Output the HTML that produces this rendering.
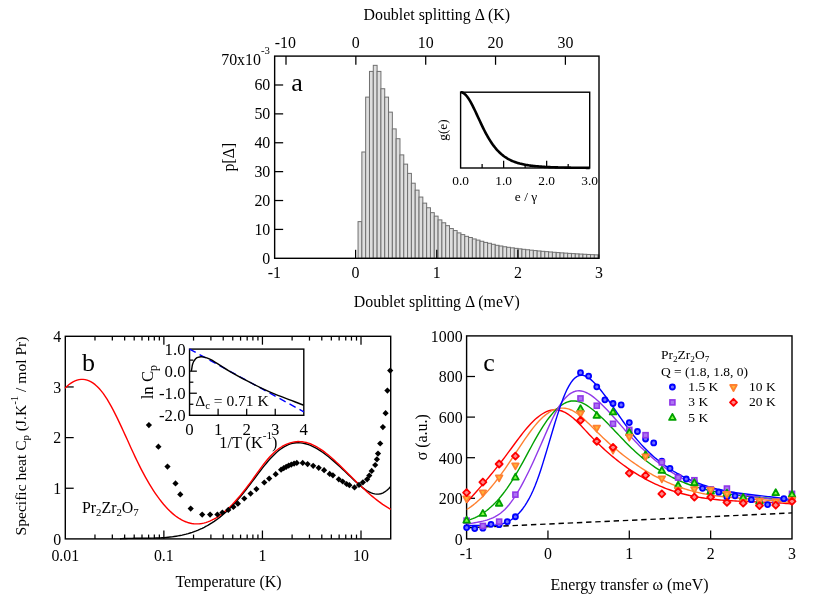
<!DOCTYPE html>
<html><head><meta charset="utf-8"><title>Figure</title>
<style>
html,body{margin:0;padding:0;background:#fff;}
body{width:830px;height:598px;overflow:hidden;font-family:"Liberation Serif",serif;}
svg{display:block;will-change:transform;}
svg text{font-family:'Liberation Serif',serif;fill:#000;}
</style></head><body>
<svg width="830" height="598" viewBox="0 0 830 598">
<rect width="830" height="598" fill="#fff"/>
<g stroke="#707070" stroke-width="1" fill="#dedede">
<rect x="358.05" y="221.62" width="3.81" height="36.68"/>
<rect x="361.86" y="152" width="3.81" height="106.3"/>
<rect x="365.67" y="97.12" width="3.81" height="161.18"/>
<rect x="369.48" y="71.41" width="3.81" height="186.89"/>
<rect x="373.29" y="65.34" width="3.81" height="192.96"/>
<rect x="377.11" y="71.41" width="3.81" height="186.89"/>
<rect x="380.92" y="88.74" width="3.81" height="169.56"/>
<rect x="384.73" y="97.12" width="3.81" height="161.18"/>
<rect x="388.54" y="112.14" width="3.81" height="146.16"/>
<rect x="392.35" y="128.89" width="3.81" height="129.41"/>
<rect x="396.16" y="138.71" width="3.81" height="119.59"/>
<rect x="399.97" y="154.89" width="3.81" height="103.41"/>
<rect x="403.78" y="164.13" width="3.81" height="94.17"/>
<rect x="407.59" y="173.38" width="3.81" height="84.92"/>
<rect x="411.4" y="183.2" width="3.81" height="75.1"/>
<rect x="415.22" y="190.13" width="3.81" height="68.17"/>
<rect x="419.03" y="197.06" width="3.81" height="61.24"/>
<rect x="422.84" y="203.13" width="3.81" height="55.17"/>
<rect x="426.65" y="207.75" width="3.81" height="50.55"/>
<rect x="430.46" y="212.66" width="3.81" height="45.64"/>
<rect x="434.27" y="216.13" width="3.81" height="42.17"/>
<rect x="438.08" y="219.88" width="3.81" height="38.42"/>
<rect x="441.89" y="222.77" width="3.81" height="35.53"/>
<rect x="445.7" y="225.66" width="3.81" height="32.64"/>
<rect x="449.51" y="228.55" width="3.81" height="29.75"/>
<rect x="453.33" y="230.57" width="3.81" height="27.73"/>
<rect x="457.14" y="232.88" width="3.81" height="25.42"/>
<rect x="460.95" y="234.61" width="3.81" height="23.69"/>
<rect x="464.76" y="236.35" width="3.81" height="21.95"/>
<rect x="468.57" y="237.5" width="3.81" height="20.8"/>
<rect x="472.38" y="238.95" width="3.81" height="19.35"/>
<rect x="476.19" y="240.1" width="3.81" height="18.2"/>
<rect x="480" y="241.26" width="3.81" height="17.04"/>
<rect x="483.81" y="242.41" width="3.81" height="15.89"/>
<rect x="487.62" y="243.28" width="3.81" height="15.02"/>
<rect x="491.44" y="244.29" width="3.81" height="14.01"/>
<rect x="495.25" y="245.3" width="3.81" height="13"/>
<rect x="499.06" y="245.99" width="3.81" height="12.31"/>
<rect x="502.87" y="246.75" width="3.81" height="11.55"/>
<rect x="506.68" y="247.31" width="3.81" height="10.99"/>
<rect x="510.49" y="247.85" width="3.81" height="10.45"/>
<rect x="514.3" y="248.36" width="3.81" height="9.94"/>
<rect x="518.11" y="248.85" width="3.81" height="9.45"/>
<rect x="521.92" y="249.31" width="3.81" height="8.99"/>
<rect x="525.73" y="249.75" width="3.81" height="8.55"/>
<rect x="529.55" y="250.17" width="3.81" height="8.13"/>
<rect x="533.36" y="250.57" width="3.81" height="7.73"/>
<rect x="537.17" y="250.95" width="3.81" height="7.35"/>
<rect x="540.98" y="251.31" width="3.81" height="6.99"/>
<rect x="544.79" y="251.65" width="3.81" height="6.65"/>
<rect x="548.6" y="251.97" width="3.81" height="6.33"/>
<rect x="552.41" y="252.28" width="3.81" height="6.02"/>
<rect x="556.22" y="252.58" width="3.81" height="5.72"/>
<rect x="560.03" y="252.86" width="3.81" height="5.44"/>
<rect x="563.84" y="253.12" width="3.81" height="5.18"/>
<rect x="567.65" y="253.38" width="3.81" height="4.92"/>
<rect x="571.47" y="253.62" width="3.81" height="4.68"/>
<rect x="575.28" y="253.85" width="3.81" height="4.45"/>
<rect x="579.09" y="254.07" width="3.81" height="4.23"/>
<rect x="582.9" y="254.27" width="3.81" height="4.03"/>
<rect x="586.71" y="254.47" width="3.81" height="3.83"/>
<rect x="590.52" y="254.66" width="3.81" height="3.64"/>
<rect x="594.33" y="254.84" width="3.81" height="3.46"/>
<rect x="598.14" y="255.01" width="0.86" height="3.29"/>
</g>
<rect x="274.65" y="56.1" width="324.35" height="202.2" fill="none" stroke="#000" stroke-width="1.4"/>
<line x1="355.6" y1="258.3" x2="355.6" y2="249.8" stroke="#000" stroke-width="1.25" />
<line x1="436.75" y1="258.3" x2="436.75" y2="249.8" stroke="#000" stroke-width="1.25" />
<line x1="517.9" y1="258.3" x2="517.9" y2="249.8" stroke="#000" stroke-width="1.25" />
<text x="274.35" y="278.1" font-size="15.9" text-anchor="middle" >-1</text>
<text x="355.6" y="278.1" font-size="15.9" text-anchor="middle" >0</text>
<text x="436.75" y="278.1" font-size="15.9" text-anchor="middle" >1</text>
<text x="517.9" y="278.1" font-size="15.9" text-anchor="middle" >2</text>
<text x="599.05" y="278.1" font-size="15.9" text-anchor="middle" >3</text>
<line x1="286" y1="56.1" x2="286" y2="64.8" stroke="#000" stroke-width="1.25" />
<text x="285.4" y="47.9" font-size="15.9" text-anchor="middle" >-10</text>
<line x1="355.85" y1="56.1" x2="355.85" y2="64.8" stroke="#000" stroke-width="1.25" />
<text x="355.85" y="47.9" font-size="15.9" text-anchor="middle" >0</text>
<line x1="425.7" y1="56.1" x2="425.7" y2="64.8" stroke="#000" stroke-width="1.25" />
<text x="425.7" y="47.9" font-size="15.9" text-anchor="middle" >10</text>
<line x1="495.55" y1="56.1" x2="495.55" y2="64.8" stroke="#000" stroke-width="1.25" />
<text x="495.55" y="47.9" font-size="15.9" text-anchor="middle" >20</text>
<line x1="565.4" y1="56.1" x2="565.4" y2="64.8" stroke="#000" stroke-width="1.25" />
<text x="565.4" y="47.9" font-size="15.9" text-anchor="middle" >30</text>
<line x1="274.65" y1="229.41" x2="283.15" y2="229.41" stroke="#000" stroke-width="1.25" />
<line x1="274.65" y1="200.53" x2="283.15" y2="200.53" stroke="#000" stroke-width="1.25" />
<line x1="274.65" y1="171.64" x2="283.15" y2="171.64" stroke="#000" stroke-width="1.25" />
<line x1="274.65" y1="142.76" x2="283.15" y2="142.76" stroke="#000" stroke-width="1.25" />
<line x1="274.65" y1="113.87" x2="283.15" y2="113.87" stroke="#000" stroke-width="1.25" />
<line x1="274.65" y1="84.99" x2="283.15" y2="84.99" stroke="#000" stroke-width="1.25" />
<text x="270.3" y="263.8" font-size="15.9" text-anchor="end" >0</text>
<text x="270.3" y="234.91" font-size="15.9" text-anchor="end" >10</text>
<text x="270.3" y="206.03" font-size="15.9" text-anchor="end" >20</text>
<text x="270.3" y="177.14" font-size="15.9" text-anchor="end" >30</text>
<text x="270.3" y="148.26" font-size="15.9" text-anchor="end" >40</text>
<text x="270.3" y="119.37" font-size="15.9" text-anchor="end" >50</text>
<text x="270.3" y="90.49" font-size="15.9" text-anchor="end" >60</text>
<text x="221.2" y="64.6" font-size="15.9" text-anchor="start" >70x10<tspan font-size="10.81" dy="-10.8">-3</tspan><tspan dy="10.8"></tspan></text>
<text x="436.8" y="20.3" font-size="15.9" text-anchor="middle" >Doublet splitting Δ (K)</text>
<text x="436.8" y="307.2" font-size="15.9" text-anchor="middle" >Doublet splitting Δ (meV)</text>
<text transform="translate(234.1 157.2) rotate(-90)" font-size="15.9" text-anchor="middle">p[Δ]</text>
<text x="291.2" y="90.7" font-size="26" text-anchor="start" >a</text>
<rect x="460.6" y="92.2" width="129.1" height="75.8" fill="#fff" stroke="#000" stroke-width="1.4"/>
<line x1="482.12" y1="168" x2="482.12" y2="164" stroke="#000" stroke-width="1.25" />
<line x1="525.14" y1="168" x2="525.14" y2="164" stroke="#000" stroke-width="1.25" />
<line x1="568.18" y1="168" x2="568.18" y2="164" stroke="#000" stroke-width="1.25" />
<line x1="503.63" y1="168" x2="503.63" y2="160.8" stroke="#000" stroke-width="1.25" />
<line x1="546.66" y1="168" x2="546.66" y2="160.8" stroke="#000" stroke-width="1.25" />
<text x="460.6" y="185" font-size="13.4" text-anchor="middle" >0.0</text>
<text x="503.63" y="185" font-size="13.4" text-anchor="middle" >1.0</text>
<text x="546.66" y="185" font-size="13.4" text-anchor="middle" >2.0</text>
<text x="589.69" y="185" font-size="13.4" text-anchor="middle" >3.0</text>
<text x="526" y="201.4" font-size="13.4" text-anchor="middle" >e / γ</text>
<text transform="translate(447 130) rotate(-90)" font-size="13.4" text-anchor="middle">g(e)</text>
<path d="M460.6 92.2L461.68 92.32L462.75 92.69L463.83 93.31L464.9 94.15L465.98 95.22L467.05 96.49L468.13 97.96L469.21 99.61L470.28 101.41L471.36 103.34L472.43 105.4L473.51 107.54L474.58 109.76L475.66 112.04L476.74 114.35L477.81 116.68L478.89 119.01L479.96 121.33L481.04 123.62L482.12 125.87L483.19 128.07L484.27 130.22L485.34 132.29L486.42 134.3L487.49 136.24L488.57 138.09L489.65 139.87L490.72 141.56L491.8 143.17L492.87 144.7L493.95 146.15L495.02 147.52L496.1 148.82L497.18 150.04L498.25 151.19L499.33 152.27L500.4 153.28L501.48 154.23L502.55 155.13L503.63 155.96L504.71 156.74L505.78 157.47L506.86 158.15L507.93 158.79L509.01 159.39L510.08 159.94L511.16 160.46L512.24 160.95L513.31 161.4L514.39 161.82L515.46 162.21L516.54 162.58L517.61 162.92L518.69 163.24L519.77 163.54L520.84 163.81L521.92 164.07L522.99 164.31L524.07 164.54L525.14 164.75L526.22 164.95L527.3 165.13L528.37 165.3L529.45 165.46L530.52 165.61L531.6 165.75L532.68 165.88L533.75 166L534.83 166.12L535.9 166.23L536.98 166.33L538.05 166.42L539.13 166.51L540.21 166.59L541.28 166.67L542.36 166.74L543.43 166.81L544.51 166.87L545.58 166.93L546.66 166.99L547.74 167.04L548.81 167.09L549.89 167.14L550.96 167.19L552.04 167.23L553.11 167.27L554.19 167.3L555.27 167.34L556.34 167.37L557.42 167.4L558.49 167.43L559.57 167.46L560.64 167.49L561.72 167.51L562.8 167.53L563.87 167.56L564.95 167.58L566.02 167.6L567.1 167.62L568.18 167.63L569.25 167.65L570.33 167.67L571.4 167.68L572.48 167.7L573.55 167.71L574.63 167.72L575.71 167.73L576.78 167.75L577.86 167.76L578.93 167.77L580.01 167.78L581.08 167.79L582.16 167.8L583.24 167.8L584.31 167.81L585.39 167.82L586.46 167.83L587.54 167.83L588.61 167.84L589.69 167.85" fill="none" stroke="#000" stroke-width="2.6" stroke-linejoin="round" />
<rect x="65.3" y="336.3" width="325.4" height="202.6" fill="none" stroke="#000" stroke-width="1.4"/>
<line x1="94.97" y1="538.9" x2="94.97" y2="534.6" stroke="#000" stroke-width="1.25" />
<line x1="94.97" y1="336.3" x2="94.97" y2="340.6" stroke="#000" stroke-width="1.25" />
<line x1="112.33" y1="538.9" x2="112.33" y2="534.6" stroke="#000" stroke-width="1.25" />
<line x1="112.33" y1="336.3" x2="112.33" y2="340.6" stroke="#000" stroke-width="1.25" />
<line x1="124.65" y1="538.9" x2="124.65" y2="534.6" stroke="#000" stroke-width="1.25" />
<line x1="124.65" y1="336.3" x2="124.65" y2="340.6" stroke="#000" stroke-width="1.25" />
<line x1="134.2" y1="538.9" x2="134.2" y2="534.6" stroke="#000" stroke-width="1.25" />
<line x1="134.2" y1="336.3" x2="134.2" y2="340.6" stroke="#000" stroke-width="1.25" />
<line x1="142" y1="538.9" x2="142" y2="534.6" stroke="#000" stroke-width="1.25" />
<line x1="142" y1="336.3" x2="142" y2="340.6" stroke="#000" stroke-width="1.25" />
<line x1="148.6" y1="538.9" x2="148.6" y2="534.6" stroke="#000" stroke-width="1.25" />
<line x1="148.6" y1="336.3" x2="148.6" y2="340.6" stroke="#000" stroke-width="1.25" />
<line x1="154.32" y1="538.9" x2="154.32" y2="534.6" stroke="#000" stroke-width="1.25" />
<line x1="154.32" y1="336.3" x2="154.32" y2="340.6" stroke="#000" stroke-width="1.25" />
<line x1="159.36" y1="538.9" x2="159.36" y2="534.6" stroke="#000" stroke-width="1.25" />
<line x1="159.36" y1="336.3" x2="159.36" y2="340.6" stroke="#000" stroke-width="1.25" />
<line x1="163.87" y1="538.9" x2="163.87" y2="530.5" stroke="#000" stroke-width="1.25" />
<line x1="163.87" y1="336.3" x2="163.87" y2="344.7" stroke="#000" stroke-width="1.25" />
<line x1="193.54" y1="538.9" x2="193.54" y2="534.6" stroke="#000" stroke-width="1.25" />
<line x1="193.54" y1="336.3" x2="193.54" y2="340.6" stroke="#000" stroke-width="1.25" />
<line x1="210.9" y1="538.9" x2="210.9" y2="534.6" stroke="#000" stroke-width="1.25" />
<line x1="210.9" y1="336.3" x2="210.9" y2="340.6" stroke="#000" stroke-width="1.25" />
<line x1="223.22" y1="538.9" x2="223.22" y2="534.6" stroke="#000" stroke-width="1.25" />
<line x1="223.22" y1="336.3" x2="223.22" y2="340.6" stroke="#000" stroke-width="1.25" />
<line x1="232.77" y1="538.9" x2="232.77" y2="534.6" stroke="#000" stroke-width="1.25" />
<line x1="232.77" y1="336.3" x2="232.77" y2="340.6" stroke="#000" stroke-width="1.25" />
<line x1="240.57" y1="538.9" x2="240.57" y2="534.6" stroke="#000" stroke-width="1.25" />
<line x1="240.57" y1="336.3" x2="240.57" y2="340.6" stroke="#000" stroke-width="1.25" />
<line x1="247.17" y1="538.9" x2="247.17" y2="534.6" stroke="#000" stroke-width="1.25" />
<line x1="247.17" y1="336.3" x2="247.17" y2="340.6" stroke="#000" stroke-width="1.25" />
<line x1="252.89" y1="538.9" x2="252.89" y2="534.6" stroke="#000" stroke-width="1.25" />
<line x1="252.89" y1="336.3" x2="252.89" y2="340.6" stroke="#000" stroke-width="1.25" />
<line x1="257.93" y1="538.9" x2="257.93" y2="534.6" stroke="#000" stroke-width="1.25" />
<line x1="257.93" y1="336.3" x2="257.93" y2="340.6" stroke="#000" stroke-width="1.25" />
<line x1="262.44" y1="538.9" x2="262.44" y2="530.5" stroke="#000" stroke-width="1.25" />
<line x1="262.44" y1="336.3" x2="262.44" y2="344.7" stroke="#000" stroke-width="1.25" />
<line x1="292.11" y1="538.9" x2="292.11" y2="534.6" stroke="#000" stroke-width="1.25" />
<line x1="292.11" y1="336.3" x2="292.11" y2="340.6" stroke="#000" stroke-width="1.25" />
<line x1="309.47" y1="538.9" x2="309.47" y2="534.6" stroke="#000" stroke-width="1.25" />
<line x1="309.47" y1="336.3" x2="309.47" y2="340.6" stroke="#000" stroke-width="1.25" />
<line x1="321.79" y1="538.9" x2="321.79" y2="534.6" stroke="#000" stroke-width="1.25" />
<line x1="321.79" y1="336.3" x2="321.79" y2="340.6" stroke="#000" stroke-width="1.25" />
<line x1="331.34" y1="538.9" x2="331.34" y2="534.6" stroke="#000" stroke-width="1.25" />
<line x1="331.34" y1="336.3" x2="331.34" y2="340.6" stroke="#000" stroke-width="1.25" />
<line x1="339.14" y1="538.9" x2="339.14" y2="534.6" stroke="#000" stroke-width="1.25" />
<line x1="339.14" y1="336.3" x2="339.14" y2="340.6" stroke="#000" stroke-width="1.25" />
<line x1="345.74" y1="538.9" x2="345.74" y2="534.6" stroke="#000" stroke-width="1.25" />
<line x1="345.74" y1="336.3" x2="345.74" y2="340.6" stroke="#000" stroke-width="1.25" />
<line x1="351.46" y1="538.9" x2="351.46" y2="534.6" stroke="#000" stroke-width="1.25" />
<line x1="351.46" y1="336.3" x2="351.46" y2="340.6" stroke="#000" stroke-width="1.25" />
<line x1="356.5" y1="538.9" x2="356.5" y2="534.6" stroke="#000" stroke-width="1.25" />
<line x1="356.5" y1="336.3" x2="356.5" y2="340.6" stroke="#000" stroke-width="1.25" />
<line x1="361.01" y1="538.9" x2="361.01" y2="530.5" stroke="#000" stroke-width="1.25" />
<line x1="361.01" y1="336.3" x2="361.01" y2="344.7" stroke="#000" stroke-width="1.25" />
<line x1="65.3" y1="488.25" x2="73.7" y2="488.25" stroke="#000" stroke-width="1.25" />
<line x1="65.3" y1="437.6" x2="73.7" y2="437.6" stroke="#000" stroke-width="1.25" />
<line x1="65.3" y1="386.95" x2="73.7" y2="386.95" stroke="#000" stroke-width="1.25" />
<g>
<path d="M120 538.72L122.01 538.61L124.01 538.53L126.02 538.46L128.02 538.4L130.03 538.36L132.03 538.33L134.04 538.3L136.04 538.29L138.05 538.28L140.05 538.27L142.06 538.26L144.06 538.25L146.07 538.23L148.07 538.21L150.08 538.19L152.08 538.15L154.09 538.1L156.09 538.04L158.1 537.97L160.1 537.87L162.11 537.76L164.11 537.62L166.12 537.47L168.12 537.28L170.13 537.07L172.13 536.83L174.14 536.55L176.15 536.25L178.15 535.91L180.16 535.53L182.16 535.11L184.17 534.64L186.17 534.14L188.18 533.59L190.18 532.99L192.19 532.34L194.19 531.64L196.2 530.89L198.2 530.08L200.21 529.21L202.21 528.28L204.22 527.29L206.22 526.24L208.23 525.12L210.23 523.93L212.24 522.68L214.24 521.35L216.25 519.94L218.25 518.46L220.26 516.91L222.26 515.27L224.27 513.55L226.27 511.75L228.28 509.86L230.29 507.88L232.29 505.82L234.3 503.66L236.3 501.43L238.31 499.12L240.31 496.74L242.32 494.3L244.32 491.8L246.33 489.26L248.33 486.67L250.34 484.05L252.34 481.4L254.35 478.73L256.35 476.05L258.36 473.39L260.36 470.76L262.37 468.17L264.37 465.64L266.38 463.19L268.38 460.82L270.39 458.56L272.39 456.41L274.4 454.39L276.4 452.52L278.41 450.8L280.41 449.24L282.42 447.84L284.43 446.6L286.43 445.53L288.44 444.64L290.44 443.93L292.45 443.39L294.45 443.03L296.46 442.82L298.46 442.77L300.47 442.88L302.47 443.12L304.48 443.51L306.48 444.03L308.49 444.67L310.49 445.44L312.5 446.32L314.5 447.31L316.51 448.4L318.51 449.59L320.52 450.87L322.52 452.24L324.53 453.68L326.53 455.19L328.54 456.78L330.54 458.42L332.55 460.12L334.55 461.86L336.56 463.65L338.57 465.47L340.57 467.33L342.58 469.2L344.58 471.1L346.59 473.01L348.59 474.92L350.6 476.84L352.6 478.75L354.61 480.64L356.61 482.5L358.62 484.31L360.62 486.03L362.63 487.65L364.63 489.15L366.64 490.49L368.64 491.66L370.65 492.64L372.65 493.39L374.66 493.9L376.66 494.15L378.67 494.1L380.67 493.74L382.68 493.04L384.68 491.99L386.69 490.55L388.69 488.7L390.7 486.43" fill="none" stroke="#000" stroke-width="1.4" stroke-linejoin="round" />
<path d="M65 388.16L67.01 386.23L69.02 384.54L71.03 383.08L73.04 381.85L75.05 380.87L77.06 380.12L79.07 379.62L81.08 379.37L83.09 379.36L85.1 379.61L87.12 380.1L89.13 380.85L91.14 381.86L93.15 383.13L95.16 384.66L97.17 386.46L99.18 388.52L101.19 390.84L103.2 393.44L105.21 396.32L107.22 399.45L109.23 402.81L111.24 406.39L113.25 410.15L115.26 414.08L117.27 418.16L119.28 422.35L121.29 426.64L123.3 430.99L125.31 435.4L127.33 439.83L129.34 444.27L131.35 448.68L133.36 453.04L135.37 457.34L137.38 461.55L139.39 465.64L141.4 469.6L143.41 473.42L145.42 477.12L147.43 480.68L149.44 484.1L151.45 487.39L153.46 490.54L155.47 493.55L157.48 496.43L159.49 499.17L161.5 501.76L163.51 504.22L165.52 506.53L167.54 508.71L169.55 510.74L171.56 512.62L173.57 514.37L175.58 515.96L177.59 517.41L179.6 518.72L181.61 519.88L183.62 520.88L185.63 521.74L187.64 522.46L189.65 523.02L191.66 523.45L193.67 523.73L195.68 523.87L197.69 523.88L199.7 523.74L201.71 523.48L203.72 523.08L205.73 522.56L207.75 521.91L209.76 521.13L211.77 520.23L213.78 519.21L215.79 518.06L217.8 516.8L219.81 515.43L221.82 513.94L223.83 512.34L225.84 510.63L227.85 508.82L229.86 506.9L231.87 504.89L233.88 502.78L235.89 500.59L237.9 498.31L239.91 495.95L241.92 493.51L243.93 491L245.94 488.42L247.95 485.77L249.97 483.07L251.98 480.31L253.99 477.51L256 474.69L258.01 471.87L260.02 469.08L262.03 466.36L264.04 463.71L266.05 461.18L268.06 458.78L270.07 456.53L272.08 454.45L274.09 452.54L276.1 450.79L278.11 449.19L280.12 447.75L282.13 446.47L284.14 445.34L286.15 444.36L288.16 443.54L290.18 442.86L292.19 442.32L294.2 441.93L296.21 441.68L298.22 441.57L300.23 441.6L302.24 441.77L304.25 442.07L306.26 442.51L308.27 443.07L310.28 443.77L312.29 444.59L314.3 445.53L316.31 446.6L318.32 447.77L320.33 449.05L322.34 450.43L324.35 451.9L326.36 453.45L328.37 455.07L330.39 456.77L332.4 458.53L334.41 460.34L336.42 462.21L338.43 464.11L340.44 466.05L342.45 468.01L344.46 470L346.47 472L348.48 474.01L350.49 476.02L352.5 478.02L354.51 480L356.52 481.97L358.53 483.91L360.54 485.84L362.55 487.73L364.56 489.59L366.57 491.41L368.58 493.2L370.6 494.94L372.61 496.64L374.62 498.28L376.63 499.88L378.64 501.42L380.65 502.89L382.66 504.31L384.67 505.66L386.68 506.94L388.69 508.14L390.7 509.27" fill="none" stroke="#ff0000" stroke-width="1.4" stroke-linejoin="round" />
</g>
<g fill="#000">
<path d="M145.8 425.1l3.1 -3.1l3.1 3.1l-3.1 3.1z"/>
<path d="M155.3 446.7l3.1 -3.1l3.1 3.1l-3.1 3.1z"/>
<path d="M164.4 466.6l3.1 -3.1l3.1 3.1l-3.1 3.1z"/>
<path d="M172.4 483.4l3.1 -3.1l3.1 3.1l-3.1 3.1z"/>
<path d="M177.2 494.4l3.1 -3.1l3.1 3.1l-3.1 3.1z"/>
<path d="M187.6 508.6l3.1 -3.1l3.1 3.1l-3.1 3.1z"/>
<path d="M199.1 514.6l3.1 -3.1l3.1 3.1l-3.1 3.1z"/>
<path d="M207 514.6l3.1 -3.1l3.1 3.1l-3.1 3.1z"/>
<path d="M214.3 514.5l3.1 -3.1l3.1 3.1l-3.1 3.1z"/>
<path d="M219.3 512.5l3.1 -3.1l3.1 3.1l-3.1 3.1z"/>
<path d="M225.2 509.9l3.1 -3.1l3.1 3.1l-3.1 3.1z"/>
<path d="M230.3 506.9l3.1 -3.1l3.1 3.1l-3.1 3.1z"/>
<path d="M234.8 503.7l3.1 -3.1l3.1 3.1l-3.1 3.1z"/>
<path d="M241.2 498.5l3.1 -3.1l3.1 3.1l-3.1 3.1z"/>
<path d="M247.5 493.6l3.1 -3.1l3.1 3.1l-3.1 3.1z"/>
<path d="M253.3 489.1l3.1 -3.1l3.1 3.1l-3.1 3.1z"/>
<path d="M261.2 482.5l3.1 -3.1l3.1 3.1l-3.1 3.1z"/>
<path d="M266.1 478.6l3.1 -3.1l3.1 3.1l-3.1 3.1z"/>
<path d="M272.6 474.2l3.1 -3.1l3.1 3.1l-3.1 3.1z"/>
<path d="M278 469.7l3.1 -3.1l3.1 3.1l-3.1 3.1z"/>
<path d="M280.6 468.2l3.1 -3.1l3.1 3.1l-3.1 3.1z"/>
<path d="M283.1 466.8l3.1 -3.1l3.1 3.1l-3.1 3.1z"/>
<path d="M285.6 465.6l3.1 -3.1l3.1 3.1l-3.1 3.1z"/>
<path d="M288.2 464.6l3.1 -3.1l3.1 3.1l-3.1 3.1z"/>
<path d="M291 463.6l3.1 -3.1l3.1 3.1l-3.1 3.1z"/>
<path d="M293.7 462.9l3.1 -3.1l3.1 3.1l-3.1 3.1z"/>
<path d="M299.6 462.9l3.1 -3.1l3.1 3.1l-3.1 3.1z"/>
<path d="M304.5 464.1l3.1 -3.1l3.1 3.1l-3.1 3.1z"/>
<path d="M310.1 465.8l3.1 -3.1l3.1 3.1l-3.1 3.1z"/>
<path d="M315.6 467.8l3.1 -3.1l3.1 3.1l-3.1 3.1z"/>
<path d="M321 470.2l3.1 -3.1l3.1 3.1l-3.1 3.1z"/>
<path d="M326.6 473.9l3.1 -3.1l3.1 3.1l-3.1 3.1z"/>
<path d="M329.8 475.3l3.1 -3.1l3.1 3.1l-3.1 3.1z"/>
<path d="M335.7 479.3l3.1 -3.1l3.1 3.1l-3.1 3.1z"/>
<path d="M339.6 481.5l3.1 -3.1l3.1 3.1l-3.1 3.1z"/>
<path d="M343.5 484l3.1 -3.1l3.1 3.1l-3.1 3.1z"/>
<path d="M346.3 485.2l3.1 -3.1l3.1 3.1l-3.1 3.1z"/>
<path d="M351.4 487.4l3.1 -3.1l3.1 3.1l-3.1 3.1z"/>
<path d="M355.9 484.9l3.1 -3.1l3.1 3.1l-3.1 3.1z"/>
<path d="M359.8 482.3l3.1 -3.1l3.1 3.1l-3.1 3.1z"/>
<path d="M364 479.3l3.1 -3.1l3.1 3.1l-3.1 3.1z"/>
<path d="M366.2 475.6l3.1 -3.1l3.1 3.1l-3.1 3.1z"/>
<path d="M368.6 470.9l3.1 -3.1l3.1 3.1l-3.1 3.1z"/>
<path d="M372.1 465l3.1 -3.1l3.1 3.1l-3.1 3.1z"/>
<path d="M373.8 459.3l3.1 -3.1l3.1 3.1l-3.1 3.1z"/>
<path d="M374.9 453.6l3.1 -3.1l3.1 3.1l-3.1 3.1z"/>
<path d="M377.1 443.5l3.1 -3.1l3.1 3.1l-3.1 3.1z"/>
<path d="M379.8 427.1l3.1 -3.1l3.1 3.1l-3.1 3.1z"/>
<path d="M382.5 413.2l3.1 -3.1l3.1 3.1l-3.1 3.1z"/>
<path d="M384.3 390.6l3.1 -3.1l3.1 3.1l-3.1 3.1z"/>
<path d="M387.1 370.6l3.1 -3.1l3.1 3.1l-3.1 3.1z"/>
</g>
<text x="61.2" y="544.5" font-size="15.9" text-anchor="end" >0</text>
<text x="61.2" y="493.85" font-size="15.9" text-anchor="end" >1</text>
<text x="61.2" y="443.2" font-size="15.9" text-anchor="end" >2</text>
<text x="61.2" y="392.55" font-size="15.9" text-anchor="end" >3</text>
<text x="61.2" y="341.9" font-size="15.9" text-anchor="end" >4</text>
<text x="65.3" y="561.1" font-size="15.9" text-anchor="middle" >0.01</text>
<text x="163.87" y="561.1" font-size="15.9" text-anchor="middle" >0.1</text>
<text x="262.44" y="561.1" font-size="15.9" text-anchor="middle" >1</text>
<text x="361.01" y="561.1" font-size="15.9" text-anchor="middle" >10</text>
<text x="228.5" y="587.2" font-size="15.9" text-anchor="middle" >Temperature (K)</text>
<text transform="translate(25.9 436) rotate(-90)" font-size="15.55" text-anchor="middle">Specific heat C<tspan font-size="10.8" dy="3.5">p</tspan><tspan dy="-3.5"> (J.K<tspan font-size="10.8" dy="-8">-1</tspan><tspan dy="8"> / mol Pr)</tspan></tspan></text>
<text x="82" y="371" font-size="26" text-anchor="start" >b</text>
<text x="81.9" y="512.7" font-size="15.9" text-anchor="start" >Pr<tspan font-size="10.81" dy="3.5">2</tspan><tspan dy="-3.5">Zr<tspan font-size="10.81" dy="3.5">2</tspan><tspan dy="-3.5">O<tspan font-size="10.81" dy="3.5">7</tspan><tspan dy="-3.5"></tspan></tspan></tspan></text>
<rect x="189.55" y="349.1" width="114.25" height="66.2" fill="#fff" stroke="#000" stroke-width="1.4"/>
<line x1="189.55" y1="349.1" x2="303.8" y2="411.77" stroke="#0000ff" stroke-width="1.4" stroke-dasharray="7 4.4"/>
<path d="M191.38 371.09C191.48 370.45 191.78 368.43 191.98 367.29C192.19 366.15 192.31 365.22 192.59 364.25C192.87 363.29 193.27 362.28 193.65 361.52C194.03 360.76 194.41 360.26 194.87 359.7C195.32 359.14 195.88 358.56 196.39 358.18C196.89 357.8 197.15 357.65 197.9 357.42C198.66 357.19 199.93 356.87 200.94 356.82C201.95 356.76 202.59 356.76 203.98 357.12C205.37 357.47 207.39 358.08 209.29 358.94C211.19 359.8 211.82 360.13 215.36 362.28C218.91 364.43 225.48 368.86 230.54 371.84C235.6 374.83 240.67 377.54 245.73 380.19C250.79 382.85 255.85 385.38 260.91 387.79C265.97 390.19 271.03 392.52 276.09 394.62C281.15 396.72 286.66 398.61 291.27 400.39C295.87 402.16 301.64 404.43 303.72 405.24" fill="none" stroke="#000" stroke-width="1.4" stroke-linejoin="round" />
<line x1="218.11" y1="415.3" x2="218.11" y2="408.8" stroke="#000" stroke-width="1.25" />
<line x1="246.68" y1="415.3" x2="246.68" y2="408.8" stroke="#000" stroke-width="1.25" />
<line x1="275.24" y1="415.3" x2="275.24" y2="408.8" stroke="#000" stroke-width="1.25" />
<line x1="189.55" y1="360.13" x2="193.35" y2="360.13" stroke="#000" stroke-width="1.25" />
<line x1="189.55" y1="371.17" x2="196.85" y2="371.17" stroke="#000" stroke-width="1.25" />
<line x1="189.55" y1="382.2" x2="193.35" y2="382.2" stroke="#000" stroke-width="1.25" />
<line x1="189.55" y1="393.23" x2="196.85" y2="393.23" stroke="#000" stroke-width="1.25" />
<line x1="189.55" y1="404.27" x2="193.35" y2="404.27" stroke="#000" stroke-width="1.25" />
<text x="185.6" y="354.9" font-size="16.8" text-anchor="end" >1.0</text>
<text x="185.6" y="376.97" font-size="16.8" text-anchor="end" >0.0</text>
<text x="185.6" y="399.03" font-size="16.8" text-anchor="end" >-1.0</text>
<text x="185.6" y="421.1" font-size="16.8" text-anchor="end" >-2.0</text>
<text x="189.55" y="434.9" font-size="16.8" text-anchor="middle" >0</text>
<text x="218.11" y="434.9" font-size="16.8" text-anchor="middle" >1</text>
<text x="246.68" y="434.9" font-size="16.8" text-anchor="middle" >2</text>
<text x="275.24" y="434.9" font-size="16.8" text-anchor="middle" >3</text>
<text x="303.8" y="434.9" font-size="16.8" text-anchor="middle" >4</text>
<text x="219.3" y="448.3" font-size="16.2" text-anchor="start" >1/T (K<tspan font-size="11.3" dy="-9.3">-1</tspan><tspan dy="9.3">)</tspan></text>
<text transform="translate(152.7 382.2) rotate(-90)" font-size="16.8" text-anchor="middle">ln C<tspan font-size="11.76" dy="3.8">p</tspan><tspan dy="-3.8"></tspan></text>
<text x="195.2" y="405.7" font-size="15.5" text-anchor="start" >Δ<tspan font-size="10.8" dy="3.4">c</tspan><tspan dy="-3.4"> = 0.71 K</tspan></text>
<rect x="466.6" y="335.9" width="325.4" height="203" fill="none" stroke="#000" stroke-width="1.4"/>
<line x1="547.95" y1="538.9" x2="547.95" y2="530.5" stroke="#000" stroke-width="1.25" />
<line x1="629.3" y1="538.9" x2="629.3" y2="530.5" stroke="#000" stroke-width="1.25" />
<line x1="710.65" y1="538.9" x2="710.65" y2="530.5" stroke="#000" stroke-width="1.25" />
<line x1="466.6" y1="498.3" x2="475" y2="498.3" stroke="#000" stroke-width="1.25" />
<line x1="466.6" y1="457.7" x2="475" y2="457.7" stroke="#000" stroke-width="1.25" />
<line x1="466.6" y1="417.1" x2="475" y2="417.1" stroke="#000" stroke-width="1.25" />
<line x1="466.6" y1="376.5" x2="475" y2="376.5" stroke="#000" stroke-width="1.25" />
<line x1="466.6" y1="527.74" x2="792" y2="512.92" stroke="#000" stroke-width="1.4" stroke-dasharray="5.4 3.8"/>
<path d="M466.7 502.43L468.71 500.2L470.72 497.96L472.72 495.72L474.73 493.46L476.74 491.19L478.75 488.91L480.76 486.61L482.76 484.29L484.77 481.95L486.78 479.59L488.79 477.21L490.8 474.8L492.8 472.37L494.81 469.9L496.82 467.41L498.83 464.88L500.84 462.32L502.84 459.72L504.85 457.09L506.86 454.41L508.87 451.7L510.88 448.97L512.88 446.23L514.89 443.5L516.9 440.79L518.91 438.11L520.92 435.48L522.92 432.92L524.93 430.43L526.94 428.03L528.95 425.73L530.96 423.55L532.96 421.5L534.97 419.59L536.98 417.83L538.99 416.22L541 414.77L543 413.49L545.01 412.38L547.02 411.46L549.03 410.73L551.04 410.2L553.05 409.87L555.05 409.76L557.06 409.86L559.07 410.2L561.08 410.75L563.09 411.51L565.09 412.47L567.1 413.62L569.11 414.94L571.12 416.43L573.13 418.08L575.13 419.86L577.14 421.77L579.15 423.77L581.16 425.85L583.17 427.98L585.17 430.13L587.18 432.3L589.19 434.45L591.2 436.56L593.21 438.63L595.21 440.66L597.22 442.64L599.23 444.59L601.24 446.5L603.25 448.37L605.25 450.2L607.26 452L609.27 453.75L611.28 455.46L613.29 457.14L615.29 458.78L617.3 460.38L619.31 461.94L621.32 463.47L623.33 464.96L625.33 466.42L627.34 467.83L629.35 469.22L631.36 470.56L633.37 471.87L635.37 473.15L637.38 474.39L639.39 475.6L641.4 476.77L643.41 477.91L645.41 479.02L647.42 480.09L649.43 481.13L651.44 482.14L653.45 483.11L655.45 484.05L657.46 484.96L659.47 485.84L661.48 486.69L663.49 487.51L665.49 488.29L667.5 489.05L669.51 489.78L671.52 490.47L673.53 491.14L675.53 491.78L677.54 492.38L679.55 492.97L681.56 493.52L683.57 494.05L685.57 494.55L687.58 495.03L689.59 495.49L691.6 495.92L693.61 496.33L695.61 496.72L697.62 497.08L699.63 497.43L701.64 497.76L703.65 498.06L705.65 498.35L707.66 498.63L709.67 498.88L711.68 499.12L713.69 499.35L715.7 499.56L717.7 499.76L719.71 499.94L721.72 500.11L723.73 500.27L725.74 500.42L727.74 500.56L729.75 500.69L731.76 500.81L733.77 500.92L735.78 501.03L737.78 501.13L739.79 501.22L741.8 501.31L743.81 501.39L745.82 501.48L747.82 501.55L749.83 501.63L751.84 501.7L753.85 501.78L755.86 501.85L757.86 501.92L759.87 502L761.88 502.08L763.89 502.16L765.9 502.24L767.9 502.33L769.91 502.43L771.92 502.53L773.93 502.63L775.94 502.75L777.94 502.87L779.95 503L781.96 503.14L783.97 503.29L785.98 503.45L787.98 503.62L789.99 503.81L792 504" fill="none" stroke="#ff0000" stroke-width="1.4" stroke-linejoin="round" />
<path d="M466.7 509.49L468.71 508.23L470.72 506.86L472.72 505.37L474.73 503.78L476.74 502.09L478.75 500.29L480.76 498.39L482.76 496.4L484.77 494.32L486.78 492.14L488.79 489.88L490.8 487.54L492.8 485.12L494.81 482.62L496.82 480.05L498.83 477.4L500.84 474.69L502.84 471.92L504.85 469.08L506.86 466.18L508.87 463.23L510.88 460.24L512.88 457.21L514.89 454.17L516.9 451.13L518.91 448.09L520.92 445.07L522.92 442.09L524.93 439.16L526.94 436.28L528.95 433.49L530.96 430.78L532.96 428.17L534.97 425.67L536.98 423.3L538.99 421.08L541 419L543 417.09L545.01 415.36L547.02 413.81L549.03 412.43L551.04 411.24L553.05 410.24L555.05 409.42L557.06 408.79L559.07 408.36L561.08 408.13L563.09 408.09L565.09 408.26L567.1 408.63L569.11 409.2L571.12 409.99L573.13 410.98L575.13 412.16L577.14 413.51L579.15 415.01L581.16 416.65L583.17 418.39L585.17 420.23L587.18 422.14L589.19 424.11L591.2 426.11L593.21 428.13L595.21 430.14L597.22 432.13L599.23 434.09L601.24 436.02L603.25 437.92L605.25 439.78L607.26 441.62L609.27 443.42L611.28 445.19L613.29 446.93L615.29 448.64L617.3 450.32L619.31 451.97L621.32 453.59L623.33 455.18L625.33 456.73L627.34 458.26L629.35 459.75L631.36 461.21L633.37 462.64L635.37 464.05L637.38 465.42L639.39 466.76L641.4 468.07L643.41 469.34L645.41 470.59L647.42 471.81L649.43 473L651.44 474.15L653.45 475.28L655.45 476.37L657.46 477.44L659.47 478.47L661.48 479.48L663.49 480.45L665.49 481.39L667.5 482.31L669.51 483.19L671.52 484.04L673.53 484.87L675.53 485.66L677.54 486.42L679.55 487.15L681.56 487.86L683.57 488.53L685.57 489.17L687.58 489.78L689.59 490.37L691.6 490.92L693.61 491.45L695.61 491.95L697.62 492.43L699.63 492.88L701.64 493.31L703.65 493.72L705.65 494.1L707.66 494.47L709.67 494.81L711.68 495.14L713.69 495.44L715.7 495.73L717.7 496.01L719.71 496.27L721.72 496.51L723.73 496.74L725.74 496.96L727.74 497.17L729.75 497.36L731.76 497.55L733.77 497.73L735.78 497.9L737.78 498.06L739.79 498.21L741.8 498.36L743.81 498.51L745.82 498.65L747.82 498.79L749.83 498.93L751.84 499.06L753.85 499.2L755.86 499.34L757.86 499.48L759.87 499.62L761.88 499.76L763.89 499.91L765.9 500.07L767.9 500.23L769.91 500.4L771.92 500.58L773.93 500.77L775.94 500.96L777.94 501.17L779.95 501.39L781.96 501.62L783.97 501.87L785.98 502.12L787.98 502.4L789.99 502.69L792 503" fill="none" stroke="#ff8030" stroke-width="1.4" stroke-linejoin="round" />
<path d="M466.7 520.7L468.71 520.12L470.72 519.45L472.72 518.68L474.73 517.81L476.74 516.85L478.75 515.78L480.76 514.61L482.76 513.33L484.77 511.94L486.78 510.44L488.79 508.83L490.8 507.09L492.8 505.23L494.81 503.25L496.82 501.14L498.83 498.9L500.84 496.53L502.84 494.03L504.85 491.38L506.86 488.6L508.87 485.67L510.88 482.61L512.88 479.42L514.89 476.13L516.9 472.73L518.91 469.25L520.92 465.69L522.92 462.06L524.93 458.38L526.94 454.67L528.95 450.94L530.96 447.22L532.96 443.53L534.97 439.89L536.98 436.33L538.99 432.87L541 429.52L543 426.33L545.01 423.29L547.02 420.41L549.03 417.71L551.04 415.19L553.05 412.85L555.05 410.7L557.06 408.74L559.07 406.99L561.08 405.44L563.09 404.11L565.09 403L567.1 402.11L569.11 401.46L571.12 401.04L573.13 400.87L575.13 400.94L577.14 401.24L579.15 401.75L581.16 402.46L583.17 403.35L585.17 404.41L587.18 405.63L589.19 406.98L591.2 408.45L593.21 410.03L595.21 411.71L597.22 413.46L599.23 415.28L601.24 417.15L603.25 419.09L605.25 421.06L607.26 423.08L609.27 425.13L611.28 427.21L613.29 429.31L615.29 431.41L617.3 433.53L619.31 435.64L621.32 437.75L623.33 439.84L625.33 441.91L627.34 443.95L629.35 445.96L631.36 447.92L633.37 449.84L635.37 451.7L637.38 453.51L639.39 455.27L641.4 456.98L643.41 458.64L645.41 460.24L647.42 461.8L649.43 463.31L651.44 464.77L653.45 466.19L655.45 467.56L657.46 468.89L659.47 470.17L661.48 471.41L663.49 472.61L665.49 473.76L667.5 474.88L669.51 475.96L671.52 477L673.53 478L675.53 478.96L677.54 479.89L679.55 480.78L681.56 481.63L683.57 482.46L685.57 483.25L687.58 484.01L689.59 484.73L691.6 485.43L693.61 486.1L695.61 486.74L697.62 487.35L699.63 487.94L701.64 488.5L703.65 489.03L705.65 489.54L707.66 490.03L709.67 490.49L711.68 490.94L713.69 491.36L715.7 491.76L717.7 492.15L719.71 492.52L721.72 492.87L723.73 493.2L725.74 493.52L727.74 493.82L729.75 494.11L731.76 494.39L733.77 494.66L735.78 494.91L737.78 495.16L739.79 495.4L741.8 495.63L743.81 495.85L745.82 496.06L747.82 496.27L749.83 496.48L751.84 496.68L753.85 496.88L755.86 497.07L757.86 497.27L759.87 497.46L761.88 497.66L763.89 497.85L765.9 498.05L767.9 498.26L769.91 498.46L771.92 498.67L773.93 498.89L775.94 499.12L777.94 499.35L779.95 499.59L781.96 499.84L783.97 500.1L785.98 500.37L787.98 500.66L789.99 500.95L792 501.26" fill="none" stroke="#00a000" stroke-width="1.4" stroke-linejoin="round" />
<path d="M466.7 524.51L468.71 524L470.72 523.54L472.72 523.13L474.73 522.74L476.74 522.37L478.75 521.98L480.76 521.58L482.76 521.14L484.77 520.65L486.78 520.09L488.79 519.45L490.8 518.7L492.8 517.85L494.81 516.86L496.82 515.73L498.83 514.44L500.84 512.96L502.84 511.3L504.85 509.43L506.86 507.33L508.87 505L510.88 502.44L512.88 499.65L514.89 496.66L516.9 493.47L518.91 490.1L520.92 486.56L522.92 482.87L524.93 479.02L526.94 475.04L528.95 470.94L530.96 466.73L532.96 462.42L534.97 458.03L536.98 453.56L538.99 449.04L541 444.46L543 439.85L545.01 435.24L547.02 430.65L549.03 426.15L551.04 421.77L553.05 417.56L555.05 413.57L557.06 409.84L559.07 406.42L561.08 403.34L563.09 400.6L565.09 398.21L567.1 396.16L569.11 394.45L571.12 393.07L573.13 392.03L575.13 391.31L577.14 390.91L579.15 390.8L581.16 390.98L583.17 391.42L585.17 392.09L587.18 393L589.19 394.1L591.2 395.39L593.21 396.84L595.21 398.44L597.22 400.17L599.23 402L601.24 403.93L603.25 405.92L605.25 407.98L607.26 410.1L609.27 412.26L611.28 414.47L613.29 416.71L615.29 418.97L617.3 421.26L619.31 423.56L621.32 425.86L623.33 428.16L625.33 430.45L627.34 432.73L629.35 434.98L631.36 437.2L633.37 439.38L635.37 441.52L637.38 443.61L639.39 445.66L641.4 447.66L643.41 449.62L645.41 451.53L647.42 453.4L649.43 455.22L651.44 456.99L653.45 458.72L655.45 460.41L657.46 462.04L659.47 463.63L661.48 465.18L663.49 466.67L665.49 468.12L667.5 469.53L669.51 470.88L671.52 472.19L673.53 473.45L675.53 474.66L677.54 475.82L679.55 476.94L681.56 478L683.57 479.02L685.57 479.99L687.58 480.91L689.59 481.78L691.6 482.61L693.61 483.39L695.61 484.14L697.62 484.84L699.63 485.51L701.64 486.15L703.65 486.75L705.65 487.32L707.66 487.86L709.67 488.37L711.68 488.86L713.69 489.33L715.7 489.77L717.7 490.2L719.71 490.61L721.72 491L723.73 491.38L725.74 491.75L727.74 492.11L729.75 492.46L731.76 492.81L733.77 493.15L735.78 493.5L737.78 493.84L739.79 494.18L741.8 494.53L743.81 494.87L745.82 495.21L747.82 495.55L749.83 495.89L751.84 496.22L753.85 496.55L755.86 496.87L757.86 497.18L759.87 497.49L761.88 497.78L763.89 498.07L765.9 498.34L767.9 498.61L769.91 498.86L771.92 499.09L773.93 499.31L775.94 499.52L777.94 499.7L779.95 499.87L781.96 500.02L783.97 500.15L785.98 500.26L787.98 500.35L789.99 500.42L792 500.46" fill="none" stroke="#9038e8" stroke-width="1.4" stroke-linejoin="round" />
<path d="M466.7 526.38L468.71 526.02L470.72 525.75L472.72 525.57L474.73 525.46L476.74 525.4L478.75 525.39L480.76 525.41L482.76 525.45L484.77 525.49L486.78 525.52L488.79 525.52L490.8 525.49L492.8 525.4L494.81 525.25L496.82 525.02L498.83 524.69L500.84 524.26L502.84 523.7L504.85 523.01L506.86 522.17L508.87 521.17L510.88 520L512.88 518.63L514.89 517.06L516.9 515.27L518.91 513.26L520.92 510.99L522.92 508.46L524.93 505.62L526.94 502.46L528.95 498.95L530.96 495.05L532.96 490.75L534.97 486.01L536.98 480.82L538.99 475.18L541 469.18L543 462.87L545.01 456.33L547.02 449.63L549.03 442.84L551.04 436.01L553.05 429.23L555.05 422.57L557.06 416.1L559.07 409.91L561.08 404.05L563.09 398.62L565.09 393.69L567.1 389.32L569.11 385.56L571.12 382.38L573.13 379.8L575.13 377.82L577.14 376.42L579.15 375.58L581.16 375.26L583.17 375.42L585.17 376L587.18 376.96L589.19 378.26L591.2 379.86L593.21 381.7L595.21 383.75L597.22 385.96L599.23 388.3L601.24 390.76L603.25 393.32L605.25 395.97L607.26 398.71L609.27 401.5L611.28 404.35L613.29 407.24L615.29 410.15L617.3 413.07L619.31 415.99L621.32 418.9L623.33 421.77L625.33 424.6L627.34 427.38L629.35 430.09L631.36 432.71L633.37 435.25L635.37 437.71L637.38 440.08L639.39 442.38L641.4 444.6L643.41 446.75L645.41 448.82L647.42 450.82L649.43 452.76L651.44 454.62L653.45 456.42L655.45 458.16L657.46 459.83L659.47 461.44L661.48 463L663.49 464.5L665.49 465.95L667.5 467.34L669.51 468.69L671.52 469.98L673.53 471.23L675.53 472.43L677.54 473.59L679.55 474.71L681.56 475.79L683.57 476.82L685.57 477.81L687.58 478.77L689.59 479.68L691.6 480.56L693.61 481.41L695.61 482.21L697.62 482.99L699.63 483.73L701.64 484.44L703.65 485.12L705.65 485.77L707.66 486.39L709.67 486.98L711.68 487.54L713.69 488.08L715.7 488.6L717.7 489.09L719.71 489.55L721.72 490L723.73 490.42L725.74 490.83L727.74 491.22L729.75 491.58L731.76 491.94L733.77 492.27L735.78 492.59L737.78 492.9L739.79 493.2L741.8 493.48L743.81 493.75L745.82 494.02L747.82 494.27L749.83 494.52L751.84 494.76L753.85 495L755.86 495.23L757.86 495.46L759.87 495.68L761.88 495.9L763.89 496.13L765.9 496.35L767.9 496.58L769.91 496.8L771.92 497.04L773.93 497.27L775.94 497.51L777.94 497.76L779.95 498.02L781.96 498.28L783.97 498.56L785.98 498.84L787.98 499.14L789.99 499.45L792 499.78" fill="none" stroke="#0000ff" stroke-width="1.4" stroke-linejoin="round" />
<circle cx="466.6" cy="527.53" r="2.5" fill="#7070ff" stroke="#0000ff" stroke-width="1.8"/>
<circle cx="474.74" cy="528.55" r="2.5" fill="#7070ff" stroke="#0000ff" stroke-width="1.8"/>
<circle cx="482.87" cy="528.14" r="2.5" fill="#7070ff" stroke="#0000ff" stroke-width="1.8"/>
<circle cx="491.01" cy="524.28" r="2.5" fill="#7070ff" stroke="#0000ff" stroke-width="1.8"/>
<circle cx="499.14" cy="524.69" r="2.5" fill="#7070ff" stroke="#0000ff" stroke-width="1.8"/>
<circle cx="507.28" cy="521.64" r="2.5" fill="#7070ff" stroke="#0000ff" stroke-width="1.8"/>
<circle cx="515.41" cy="516.77" r="2.5" fill="#7070ff" stroke="#0000ff" stroke-width="1.8"/>
<circle cx="580.49" cy="372.64" r="2.5" fill="#7070ff" stroke="#0000ff" stroke-width="1.8"/>
<circle cx="588.62" cy="376.09" r="2.5" fill="#7070ff" stroke="#0000ff" stroke-width="1.8"/>
<circle cx="596.76" cy="386.85" r="2.5" fill="#7070ff" stroke="#0000ff" stroke-width="1.8"/>
<circle cx="604.89" cy="399.84" r="2.5" fill="#7070ff" stroke="#0000ff" stroke-width="1.8"/>
<circle cx="613.03" cy="403.5" r="2.5" fill="#7070ff" stroke="#0000ff" stroke-width="1.8"/>
<circle cx="621.17" cy="404.92" r="2.5" fill="#7070ff" stroke="#0000ff" stroke-width="1.8"/>
<circle cx="629.3" cy="422.58" r="2.5" fill="#7070ff" stroke="#0000ff" stroke-width="1.8"/>
<circle cx="637.44" cy="431.51" r="2.5" fill="#7070ff" stroke="#0000ff" stroke-width="1.8"/>
<circle cx="645.57" cy="439.02" r="2.5" fill="#7070ff" stroke="#0000ff" stroke-width="1.8"/>
<circle cx="653.71" cy="442.88" r="2.5" fill="#7070ff" stroke="#0000ff" stroke-width="1.8"/>
<circle cx="661.84" cy="461.15" r="2.5" fill="#7070ff" stroke="#0000ff" stroke-width="1.8"/>
<circle cx="669.98" cy="468.46" r="2.5" fill="#7070ff" stroke="#0000ff" stroke-width="1.8"/>
<circle cx="678.11" cy="476.98" r="2.5" fill="#7070ff" stroke="#0000ff" stroke-width="1.8"/>
<circle cx="686.25" cy="479.01" r="2.5" fill="#7070ff" stroke="#0000ff" stroke-width="1.8"/>
<circle cx="694.38" cy="482.06" r="2.5" fill="#7070ff" stroke="#0000ff" stroke-width="1.8"/>
<circle cx="702.51" cy="488.35" r="2.5" fill="#7070ff" stroke="#0000ff" stroke-width="1.8"/>
<circle cx="710.65" cy="491.19" r="2.5" fill="#7070ff" stroke="#0000ff" stroke-width="1.8"/>
<circle cx="718.79" cy="492.21" r="2.5" fill="#7070ff" stroke="#0000ff" stroke-width="1.8"/>
<circle cx="726.92" cy="497.08" r="2.5" fill="#7070ff" stroke="#0000ff" stroke-width="1.8"/>
<circle cx="735.06" cy="495.86" r="2.5" fill="#7070ff" stroke="#0000ff" stroke-width="1.8"/>
<circle cx="743.19" cy="497.28" r="2.5" fill="#7070ff" stroke="#0000ff" stroke-width="1.8"/>
<circle cx="751.33" cy="499.72" r="2.5" fill="#7070ff" stroke="#0000ff" stroke-width="1.8"/>
<circle cx="759.46" cy="502.36" r="2.5" fill="#7070ff" stroke="#0000ff" stroke-width="1.8"/>
<circle cx="767.6" cy="504.59" r="2.5" fill="#7070ff" stroke="#0000ff" stroke-width="1.8"/>
<circle cx="775.73" cy="503.38" r="2.5" fill="#7070ff" stroke="#0000ff" stroke-width="1.8"/>
<circle cx="783.87" cy="498.71" r="2.5" fill="#7070ff" stroke="#0000ff" stroke-width="1.8"/>
<circle cx="792" cy="500.33" r="2.5" fill="#7070ff" stroke="#0000ff" stroke-width="1.8"/>
<rect x="464.1" y="518.13" width="5" height="5" fill="#ac74f2" stroke="#9038e8" stroke-width="1.6"/>
<rect x="480.37" y="523.41" width="5" height="5" fill="#ac74f2" stroke="#9038e8" stroke-width="1.6"/>
<rect x="496.64" y="519.14" width="5" height="5" fill="#ac74f2" stroke="#9038e8" stroke-width="1.6"/>
<rect x="512.91" y="492.15" width="5" height="5" fill="#ac74f2" stroke="#9038e8" stroke-width="1.6"/>
<rect x="577.99" y="395.92" width="5" height="5" fill="#ac74f2" stroke="#9038e8" stroke-width="1.6"/>
<rect x="594.26" y="403.23" width="5" height="5" fill="#ac74f2" stroke="#9038e8" stroke-width="1.6"/>
<rect x="610.53" y="421.3" width="5" height="5" fill="#ac74f2" stroke="#9038e8" stroke-width="1.6"/>
<rect x="626.8" y="427.39" width="5" height="5" fill="#ac74f2" stroke="#9038e8" stroke-width="1.6"/>
<rect x="643.07" y="432.67" width="5" height="5" fill="#ac74f2" stroke="#9038e8" stroke-width="1.6"/>
<rect x="659.34" y="459.87" width="5" height="5" fill="#ac74f2" stroke="#9038e8" stroke-width="1.6"/>
<rect x="675.61" y="475.09" width="5" height="5" fill="#ac74f2" stroke="#9038e8" stroke-width="1.6"/>
<rect x="691.88" y="477.73" width="5" height="5" fill="#ac74f2" stroke="#9038e8" stroke-width="1.6"/>
<rect x="708.15" y="486.87" width="5" height="5" fill="#ac74f2" stroke="#9038e8" stroke-width="1.6"/>
<rect x="724.42" y="486.06" width="5" height="5" fill="#ac74f2" stroke="#9038e8" stroke-width="1.6"/>
<rect x="740.69" y="494.78" width="5" height="5" fill="#ac74f2" stroke="#9038e8" stroke-width="1.6"/>
<rect x="756.96" y="499.05" width="5" height="5" fill="#ac74f2" stroke="#9038e8" stroke-width="1.6"/>
<rect x="773.23" y="499.05" width="5" height="5" fill="#ac74f2" stroke="#9038e8" stroke-width="1.6"/>
<rect x="789.5" y="491.33" width="5" height="5" fill="#ac74f2" stroke="#9038e8" stroke-width="1.6"/>
<path d="M466.6 516.62L469.9 522.62L463.3 522.62z" fill="#80ff40" stroke="#00a000" stroke-width="1.8" stroke-linejoin="round"/>
<path d="M482.87 509.92L486.17 515.92L479.57 515.92z" fill="#80ff40" stroke="#00a000" stroke-width="1.8" stroke-linejoin="round"/>
<path d="M499.14 499.77L502.44 505.77L495.84 505.77z" fill="#80ff40" stroke="#00a000" stroke-width="1.8" stroke-linejoin="round"/>
<path d="M515.41 473.58L518.71 479.58L512.11 479.58z" fill="#80ff40" stroke="#00a000" stroke-width="1.8" stroke-linejoin="round"/>
<path d="M580.49 405.17L583.79 411.17L577.19 411.17z" fill="#80ff40" stroke="#00a000" stroke-width="1.8" stroke-linejoin="round"/>
<path d="M596.76 411.87L600.06 417.87L593.46 417.87z" fill="#80ff40" stroke="#00a000" stroke-width="1.8" stroke-linejoin="round"/>
<path d="M613.03 408.42L616.33 414.42L609.73 414.42z" fill="#80ff40" stroke="#00a000" stroke-width="1.8" stroke-linejoin="round"/>
<path d="M629.3 428.93L632.6 434.93L626 434.93z" fill="#80ff40" stroke="#00a000" stroke-width="1.8" stroke-linejoin="round"/>
<path d="M645.57 451.25L648.87 457.25L642.27 457.25z" fill="#80ff40" stroke="#00a000" stroke-width="1.8" stroke-linejoin="round"/>
<path d="M661.84 466.89L665.14 472.89L658.54 472.89z" fill="#80ff40" stroke="#00a000" stroke-width="1.8" stroke-linejoin="round"/>
<path d="M678.11 481.7L681.41 487.7L674.81 487.7z" fill="#80ff40" stroke="#00a000" stroke-width="1.8" stroke-linejoin="round"/>
<path d="M694.38 479.07L697.68 485.07L691.08 485.07z" fill="#80ff40" stroke="#00a000" stroke-width="1.8" stroke-linejoin="round"/>
<path d="M710.65 487.59L713.95 493.59L707.35 493.59z" fill="#80ff40" stroke="#00a000" stroke-width="1.8" stroke-linejoin="round"/>
<path d="M726.92 489.62L730.22 495.62L723.62 495.62z" fill="#80ff40" stroke="#00a000" stroke-width="1.8" stroke-linejoin="round"/>
<path d="M743.19 493.88L746.49 499.88L739.89 499.88z" fill="#80ff40" stroke="#00a000" stroke-width="1.8" stroke-linejoin="round"/>
<path d="M759.46 497.74L762.76 503.74L756.16 503.74z" fill="#80ff40" stroke="#00a000" stroke-width="1.8" stroke-linejoin="round"/>
<path d="M775.73 489.22L779.03 495.22L772.43 495.22z" fill="#80ff40" stroke="#00a000" stroke-width="1.8" stroke-linejoin="round"/>
<path d="M792 490.84L795.3 496.84L788.7 496.84z" fill="#80ff40" stroke="#00a000" stroke-width="1.8" stroke-linejoin="round"/>
<path d="M466.6 502.31L469.9 496.31L463.3 496.31z" fill="#ffb838" stroke="#ff8030" stroke-width="1.8" stroke-linejoin="round"/>
<path d="M482.87 496.42L486.17 490.42L479.57 490.42z" fill="#ffb838" stroke="#ff8030" stroke-width="1.8" stroke-linejoin="round"/>
<path d="M499.14 481.4L502.44 475.4L495.84 475.4z" fill="#ffb838" stroke="#ff8030" stroke-width="1.8" stroke-linejoin="round"/>
<path d="M515.41 469.42L518.71 463.42L512.11 463.42z" fill="#ffb838" stroke="#ff8030" stroke-width="1.8" stroke-linejoin="round"/>
<path d="M580.49 417.25L583.79 411.25L577.19 411.25z" fill="#ffb838" stroke="#ff8030" stroke-width="1.8" stroke-linejoin="round"/>
<path d="M596.76 431.66L600.06 425.66L593.46 425.66z" fill="#ffb838" stroke="#ff8030" stroke-width="1.8" stroke-linejoin="round"/>
<path d="M613.03 453.59L616.33 447.59L609.73 447.59z" fill="#ffb838" stroke="#ff8030" stroke-width="1.8" stroke-linejoin="round"/>
<path d="M629.3 440.6L632.6 434.6L626 434.6z" fill="#ffb838" stroke="#ff8030" stroke-width="1.8" stroke-linejoin="round"/>
<path d="M645.57 460.29L648.87 454.29L642.27 454.29z" fill="#ffb838" stroke="#ff8030" stroke-width="1.8" stroke-linejoin="round"/>
<path d="M661.84 482.41L665.14 476.41L658.54 476.41z" fill="#ffb838" stroke="#ff8030" stroke-width="1.8" stroke-linejoin="round"/>
<path d="M678.11 493.58L681.41 487.58L674.81 487.58z" fill="#ffb838" stroke="#ff8030" stroke-width="1.8" stroke-linejoin="round"/>
<path d="M694.38 493.17L697.68 487.17L691.08 487.17z" fill="#ffb838" stroke="#ff8030" stroke-width="1.8" stroke-linejoin="round"/>
<path d="M710.65 493.58L713.95 487.58L707.35 487.58z" fill="#ffb838" stroke="#ff8030" stroke-width="1.8" stroke-linejoin="round"/>
<path d="M726.92 497.84L730.22 491.84L723.62 491.84z" fill="#ffb838" stroke="#ff8030" stroke-width="1.8" stroke-linejoin="round"/>
<path d="M743.19 506.17L746.49 500.17L739.89 500.17z" fill="#ffb838" stroke="#ff8030" stroke-width="1.8" stroke-linejoin="round"/>
<path d="M759.46 504.54L762.76 498.54L756.16 498.54z" fill="#ffb838" stroke="#ff8030" stroke-width="1.8" stroke-linejoin="round"/>
<path d="M775.73 505.35L779.03 499.35L772.43 499.35z" fill="#ffb838" stroke="#ff8030" stroke-width="1.8" stroke-linejoin="round"/>
<path d="M792 503.73L795.3 497.73L788.7 497.73z" fill="#ffb838" stroke="#ff8030" stroke-width="1.8" stroke-linejoin="round"/>
<path d="M463.1 492.62L466.6 489.12L470.1 492.62L466.6 496.12z" fill="#ff8888" stroke="#ff0000" stroke-width="1.8" stroke-linejoin="round"/>
<path d="M479.37 482.06L482.87 478.56L486.37 482.06L482.87 485.56z" fill="#ff8888" stroke="#ff0000" stroke-width="1.8" stroke-linejoin="round"/>
<path d="M495.64 463.99L499.14 460.49L502.64 463.99L499.14 467.49z" fill="#ff8888" stroke="#ff0000" stroke-width="1.8" stroke-linejoin="round"/>
<path d="M511.91 456.08L515.41 452.58L518.91 456.08L515.41 459.58z" fill="#ff8888" stroke="#ff0000" stroke-width="1.8" stroke-linejoin="round"/>
<path d="M576.99 420.35L580.49 416.85L583.99 420.35L580.49 423.85z" fill="#ff8888" stroke="#ff0000" stroke-width="1.8" stroke-linejoin="round"/>
<path d="M593.26 441.26L596.76 437.76L600.26 441.26L596.76 444.76z" fill="#ff8888" stroke="#ff0000" stroke-width="1.8" stroke-linejoin="round"/>
<path d="M609.53 447.35L613.03 443.85L616.53 447.35L613.03 450.85z" fill="#ff8888" stroke="#ff0000" stroke-width="1.8" stroke-linejoin="round"/>
<path d="M625.8 473.13L629.3 469.63L632.8 473.13L629.3 476.63z" fill="#ff8888" stroke="#ff0000" stroke-width="1.8" stroke-linejoin="round"/>
<path d="M642.07 475.36L645.57 471.86L649.07 475.36L645.57 478.86z" fill="#ff8888" stroke="#ff0000" stroke-width="1.8" stroke-linejoin="round"/>
<path d="M658.34 493.83L661.84 490.33L665.34 493.83L661.84 497.33z" fill="#ff8888" stroke="#ff0000" stroke-width="1.8" stroke-linejoin="round"/>
<path d="M674.61 491.6L678.11 488.1L681.61 491.6L678.11 495.1z" fill="#ff8888" stroke="#ff0000" stroke-width="1.8" stroke-linejoin="round"/>
<path d="M690.88 497.08L694.38 493.58L697.88 497.08L694.38 500.58z" fill="#ff8888" stroke="#ff0000" stroke-width="1.8" stroke-linejoin="round"/>
<path d="M707.15 497.08L710.65 493.58L714.15 497.08L710.65 500.58z" fill="#ff8888" stroke="#ff0000" stroke-width="1.8" stroke-linejoin="round"/>
<path d="M723.42 502.36L726.92 498.86L730.42 502.36L726.92 505.86z" fill="#ff8888" stroke="#ff0000" stroke-width="1.8" stroke-linejoin="round"/>
<path d="M739.69 503.17L743.19 499.67L746.69 503.17L743.19 506.67z" fill="#ff8888" stroke="#ff0000" stroke-width="1.8" stroke-linejoin="round"/>
<path d="M755.96 505.61L759.46 502.11L762.96 505.61L759.46 509.11z" fill="#ff8888" stroke="#ff0000" stroke-width="1.8" stroke-linejoin="round"/>
<path d="M772.23 505.2L775.73 501.7L779.23 505.2L775.73 508.7z" fill="#ff8888" stroke="#ff0000" stroke-width="1.8" stroke-linejoin="round"/>
<path d="M788.5 501.34L792 497.84L795.5 501.34L792 504.84z" fill="#ff8888" stroke="#ff0000" stroke-width="1.8" stroke-linejoin="round"/>
<text x="466.3" y="559" font-size="15.9" text-anchor="middle" >-1</text>
<text x="547.95" y="559" font-size="15.9" text-anchor="middle" >0</text>
<text x="629.3" y="559" font-size="15.9" text-anchor="middle" >1</text>
<text x="710.65" y="559" font-size="15.9" text-anchor="middle" >2</text>
<text x="792" y="559" font-size="15.9" text-anchor="middle" >3</text>
<text x="462.6" y="544.7" font-size="15.9" text-anchor="end" >0</text>
<text x="462.6" y="504.1" font-size="15.9" text-anchor="end" >200</text>
<text x="462.6" y="463.5" font-size="15.9" text-anchor="end" >400</text>
<text x="462.6" y="422.9" font-size="15.9" text-anchor="end" >600</text>
<text x="462.6" y="382.3" font-size="15.9" text-anchor="end" >800</text>
<text x="462.6" y="341.7" font-size="15.9" text-anchor="end" >1000</text>
<text x="629.5" y="590.1" font-size="15.9" text-anchor="middle" >Energy transfer ω (meV)</text>
<text transform="translate(427 437.3) rotate(-90)" font-size="15.9" text-anchor="middle">σ (a.u.)</text>
<text x="483.2" y="370.5" font-size="26" text-anchor="start" >c</text>
<text x="661" y="358.9" font-size="13.5" text-anchor="start" >Pr<tspan font-size="9.18" dy="2.97">2</tspan><tspan dy="-2.97">Zr<tspan font-size="9.18" dy="2.97">2</tspan><tspan dy="-2.97">O<tspan font-size="9.18" dy="2.97">7</tspan><tspan dy="-2.97"></tspan></tspan></tspan></text>
<text x="661" y="375.7" font-size="13.5" text-anchor="start" >Q = (1.8, 1.8, 0)</text>
<text x="688.3" y="391.1" font-size="13.5" text-anchor="start" >1.5 K</text>
<text x="688.3" y="406.3" font-size="13.5" text-anchor="start" >3 K</text>
<text x="688.3" y="421.5" font-size="13.5" text-anchor="start" >5 K</text>
<text x="749" y="391.1" font-size="13.5" text-anchor="start" >10 K</text>
<text x="749" y="406.3" font-size="13.5" text-anchor="start" >20 K</text>
<circle cx="672.4" cy="387" r="2.5" fill="#7070ff" stroke="#0000ff" stroke-width="1.8"/>
<rect x="669.9" y="399.9" width="5" height="5" fill="#ac74f2" stroke="#9038e8" stroke-width="1.6"/>
<path d="M672.4 413.9L675.7 419.9L669.1 419.9z" fill="#80ff40" stroke="#00a000" stroke-width="1.8" stroke-linejoin="round"/>
<path d="M733.5 391L736.8 385L730.2 385z" fill="#ffb838" stroke="#ff8030" stroke-width="1.8" stroke-linejoin="round"/>
<path d="M730 402.3L733.5 398.8L737 402.3L733.5 405.8z" fill="#ff8888" stroke="#ff0000" stroke-width="1.8" stroke-linejoin="round"/>
</svg>
</body></html>
